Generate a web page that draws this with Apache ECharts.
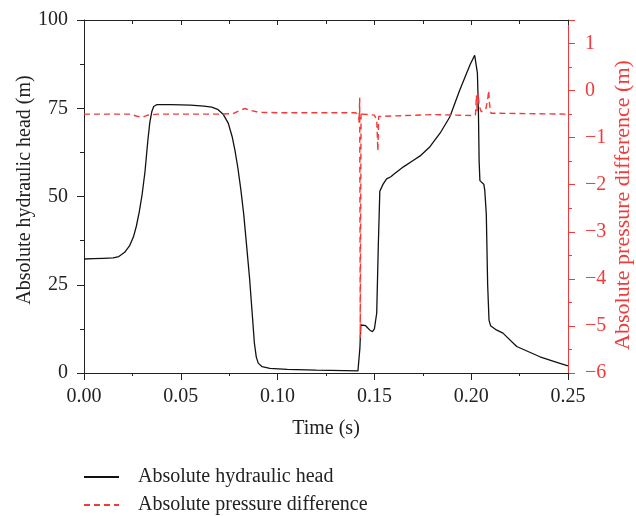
<!DOCTYPE html>
<html>
<head>
<meta charset="utf-8">
<script src="https://cdn.jsdelivr.net/npm/echarts@6/dist/echarts.min.js"></script>
<style>
  html, body { margin: 0; padding: 0; background: #fff; }
  #chart { width: 636px; height: 516px; }
</style>
</head>
<body>
<div id="chart"></div>
<script>
// absolute hydraulic head (m), left axis
var headTime = [0.000, 0.005, 0.010, 0.015, 0.018, 0.021, 0.0235, 0.0255, 0.027, 0.0285,
  0.030, 0.0315, 0.033, 0.034, 0.035, 0.036, 0.0375, 0.045, 0.055, 0.062,
  0.066, 0.069, 0.072, 0.0745, 0.0765, 0.078, 0.0795, 0.081, 0.0825, 0.084,
  0.0855, 0.087, 0.088, 0.089, 0.090, 0.092, 0.096, 0.105, 0.120, 0.1415,
  0.1425, 0.1430, 0.1455, 0.1475, 0.149, 0.150, 0.1512, 0.152, 0.1528, 0.1545,
  0.1563, 0.1585, 0.160, 0.165, 0.170, 0.1736, 0.1787, 0.184, 0.189, 0.194,
  0.1994, 0.2018, 0.2025, 0.2032, 0.2037, 0.2041, 0.2045, 0.2065, 0.207, 0.2078,
  0.2085, 0.2092, 0.2100, 0.213, 0.2164, 0.2235, 0.2355, 0.2450, 0.2500];
var headValue = [32.3, 32.4, 32.5, 32.6, 33.0, 34.2, 36.0, 38.5, 41.5, 45.5,
  50.5, 57, 66, 71, 74, 75.5, 76.0, 76.0, 75.9, 75.6,
  75.3, 74.7, 73.2, 70.8, 67, 63, 58, 52, 45, 36,
  27, 16, 8.5, 4.5, 2.8, 1.8, 1.3, 1.0, 0.8, 0.6,
  7, 13.6, 13.4, 12.2, 11.7, 12.5, 17, 35.7, 51.5, 53.5,
  55, 55.6, 56.3, 58.4, 60.2, 61.5, 64.1, 68, 72.6, 80,
  87.3, 90, 89.5, 85, 75, 60, 54.5, 53.5, 51.8, 45,
  25, 15, 13.4, 12.2, 11.3, 7.5, 4.6, 2.9, 2.0];

// absolute pressure difference (m), right axis
var diffTime = [0.000, 0.020, 0.024, 0.027, 0.030, 0.033, 0.038, 0.070, 0.077, 0.080,
  0.083, 0.086, 0.090, 0.100, 0.140, 0.1418, 0.1421, 0.1424, 0.1427, 0.1431,
  0.1436, 0.150, 0.1505, 0.1512, 0.1518, 0.1522, 0.153, 0.180, 0.200, 0.2022,
  0.2027, 0.2031, 0.2036, 0.2041, 0.2046, 0.2052, 0.2075, 0.2085, 0.2090, 0.2095,
  0.2102, 0.2110, 0.250];
var diffValue = [-0.5, -0.5, -0.5, -0.54, -0.57, -0.52, -0.5, -0.5, -0.49, -0.43,
  -0.38, -0.42, -0.46, -0.47, -0.47, -0.5, -0.68, -0.15, -5.26, -0.45,
  -0.5, -0.52, -0.56, -0.62, -1.28, -0.55, -0.51, -0.51, -0.53, -0.52,
  -0.1, -0.45, -0.05, -0.3, -0.38, -0.45, -0.4, -0.2, 0.0, -0.3,
  -0.48, -0.5, -0.5];

var seriesNames = ['Absolute hydraulic head', 'Absolute pressure difference'];

function pairs(xs, ys) {
  var out = [];
  for (var i = 0; i < xs.length; i++) out.push([xs[i], ys[i]]);
  return out;
}

var RED = '#f23a3a';
var INK = '#222';
var FONT = 'Liberation Serif';

var myChart = echarts.init(document.getElementById('chart'));
var option = {
  animation: false,
  textStyle: { fontFamily: FONT },
  grid: { left: 84, right: 68, top: 20, bottom: 143, outerBoundsMode: 'none', containLabel: false },
  legend: {
    orient: 'vertical',
    left: 83,
    top: 467,
    padding: 0,
    itemWidth: 35,
    itemHeight: 14,
    itemGap: 8,
    itemStyle: { opacity: 0 },
    textStyle: { fontFamily: FONT, fontSize: 20, color: INK, padding: [0, 0, 0, 14] },
    data: seriesNames
  },
  xAxis: [{
    type: 'value',
    min: 0, max: 0.25, interval: 0.05,
    name: 'Time (s)',
    nameLocation: 'middle',
    nameGap: 46,
    nameMoveOverlap: false,
    nameTextStyle: { fontFamily: FONT, fontSize: 20, color: INK },
    axisLine: { onZero: false, lineStyle: { color: INK, width: 1 } },
    axisTick: { show: true, length: 7, lineStyle: { color: INK } },
    minorTick: { show: true, splitNumber: 2, length: 3, lineStyle: { color: INK } },
    splitLine: { show: false },
    axisLabel: {
      margin: 14, fontFamily: FONT, fontSize: 20, color: INK,
      formatter: function (v) { return v.toFixed(2); }
    }
  }, {
    type: 'value',
    position: 'top',
    min: 0, max: 0.25, interval: 0.05,
    axisLine: { show: true, onZero: false, lineStyle: { color: INK, width: 1 } },
    axisTick: { show: true, inside: true, length: 5, lineStyle: { color: INK } },
    minorTick: { show: true, splitNumber: 2, length: 4, lineStyle: { color: INK } },
    splitLine: { show: false },
    axisLabel: { show: false }
  }],
  yAxis: [{
    type: 'value',
    position: 'left',
    min: 0, max: 100, interval: 25,
    name: 'Absolute hydraulic head (m)',
    nameLocation: 'middle',
    nameGap: 49,
    nameMoveOverlap: false,
    nameTextStyle: { fontFamily: FONT, fontSize: 20, color: INK, padding: [0, 0, 0, 13] },
    axisLine: { show: true, onZero: false, lineStyle: { color: INK, width: 1 } },
    axisTick: { show: true, length: 7, lineStyle: { color: INK } },
    minorTick: { show: true, splitNumber: 2, length: 4, lineStyle: { color: INK } },
    splitLine: { show: false },
    axisLabel: { margin: 16, fontFamily: FONT, fontSize: 20, color: INK }
  }, {
    type: 'value',
    position: 'right',
    min: -6, max: 1.5, interval: 1,
    name: 'Absolute pressure difference (m)',
    nameLocation: 'middle',
    nameGap: 44,
    nameRotate: 90,
    nameMoveOverlap: false,
    nameTextStyle: { fontFamily: FONT, fontSize: 22, color: RED, padding: [0, 17, 0, 0] },
    axisLine: { show: true, onZero: false, lineStyle: { color: RED, width: 1 } },
    axisTick: { show: true, length: 7, lineStyle: { color: RED } },
    minorTick: { show: true, splitNumber: 2, length: 4, lineStyle: { color: RED } },
    splitLine: { show: false },
    axisLabel: {
      margin: 17, fontFamily: FONT, fontSize: 20, color: RED, showMaxLabel: false,
      formatter: function (v) { return v < 0 ? '\u2212' + Math.abs(v) : String(v); }
    }
  }],
  series: [{
    name: seriesNames[0],
    type: 'line',
    xAxisIndex: 0,
    yAxisIndex: 0,
    showSymbol: false,
    symbol: 'none',
    data: pairs(headTime, headValue),
    lineStyle: { color: '#111', width: 1.3 },
    itemStyle: { color: '#111' },
    z: 2
  }, {
    name: seriesNames[1],
    type: 'line',
    xAxisIndex: 0,
    yAxisIndex: 1,
    showSymbol: false,
    symbol: 'none',
    data: pairs(diffTime, diffValue),
    lineStyle: { color: RED, width: 1.4, type: [6, 4] },
    itemStyle: { color: RED },
    z: 3
  }]
};

myChart.setOption(option);
</script>
</body>
</html>
